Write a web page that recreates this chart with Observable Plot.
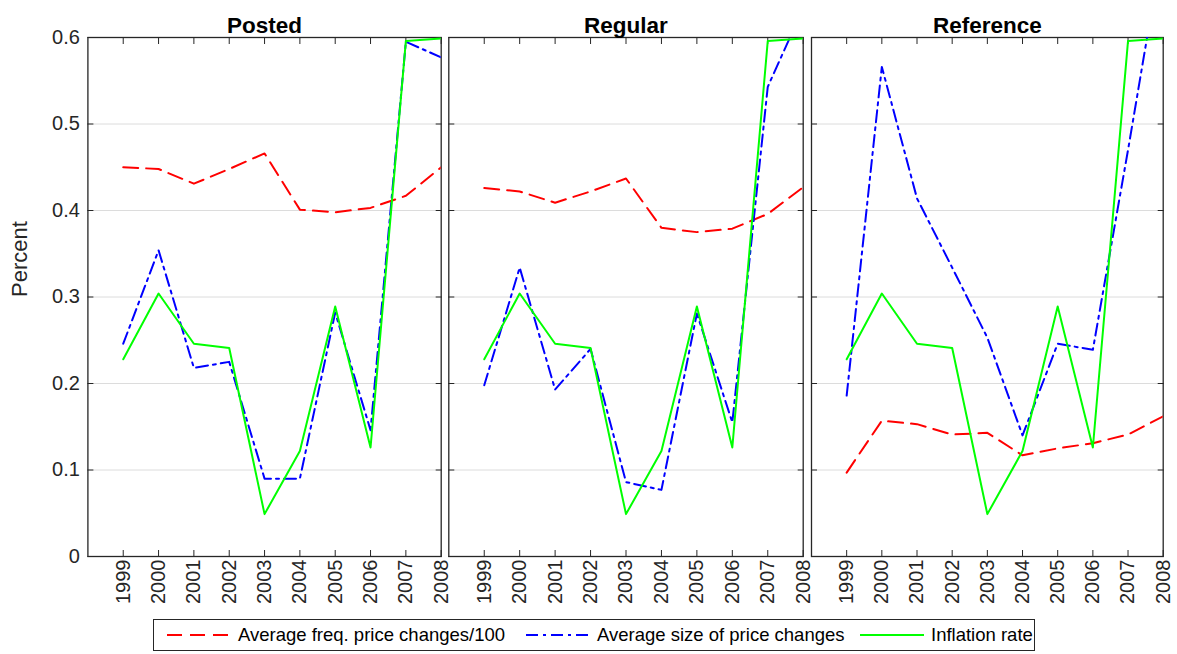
<!DOCTYPE html>
<html>
<head>
<meta charset="utf-8">
<script src="https://cdn.jsdelivr.net/npm/d3@7"></script>
<script src="https://cdn.jsdelivr.net/npm/@observablehq/plot@0.6"></script>
<style>
  body { margin: 0; background: #fff; font-family: "Liberation Sans", Arial, sans-serif; }
  #wrap { position: relative; width: 1177px; height: 654px; overflow: hidden; }
  .panel { position: absolute; top: 0; }
  #legend { position: absolute; left: 153px; top: 619px; width: 882px; height: 32px; border: 1px solid #262626; box-sizing: border-box; font-size: 18.5px; color: #000; }
  #legend .sw { position: absolute; top: 10px; }
  #legend .lt { position: absolute; top: 4px; line-height: 22px; white-space: nowrap; }
</style>
</head>
<body>
<div id="wrap"></div>
<script>
// ---- data ----
const years = [1999, 2000, 2001, 2002, 2003, 2004, 2005, 2006, 2007, 2008];
const yTicks = [0, 0.1, 0.2, 0.3, 0.4, 0.5, 0.6];
const gridTicks = [0.1, 0.2, 0.3, 0.4, 0.5];
const panelTitles = ["Posted", "Regular", "Reference"];
const seriesNames = ["Average freq. price changes/100", "Average size of price changes", "Inflation rate"];

const inflation     = [0.228, 0.304, 0.246, 0.241, 0.049, 0.122, 0.289, 0.126, 0.596, 0.599];
const postedFreq    = [0.450, 0.448, 0.431, 0.448, 0.466, 0.401, 0.398, 0.403, 0.417, 0.450];
const postedSize    = [0.246, 0.354, 0.218, 0.225, 0.090, 0.090, 0.282, 0.146, 0.595, 0.577];
const regularFreq   = [0.426, 0.422, 0.409, 0.422, 0.437, 0.380, 0.375, 0.379, 0.396, 0.427];
const regularSize   = [0.198, 0.334, 0.193, 0.240, 0.086, 0.077, 0.281, 0.155, 0.543, 0.634];
const referenceFreq = [0.097, 0.157, 0.153, 0.141, 0.143, 0.117, 0.125, 0.131, 0.141, 0.162];
const referenceSize = [0.186, 0.566, 0.414, 0.334, 0.253, 0.140, 0.246, 0.239, 0.470, 0.710];

// ---- styling ----
const RED = "#ff0000", BLUE = "#0000ff", GREEN = "#00ff00", AX = "#262626";
const DASH = "15,8", DASHDOT = "12,5,3,5";
const fmtY = d => String(+d.toFixed(1));

const panels = [
  {title: panelTitles[0], freq: postedFreq, size: postedSize, left: 0, width: 444, ml: 87.4, mr: 3.3, first: true},
  {title: panelTitles[1], freq: regularFreq, size: regularSize, left: 444, width: 362, ml: 4.3, mr: 3.3, first: false},
  {title: panelTitles[2], freq: referenceFreq, size: referenceSize, left: 806, width: 371, ml: 5.0, mr: 14.3, first: false}
];

const wrap = document.getElementById("wrap");
const toRows = arr => years.map((yr, i) => ({year: yr, v: arr[i]}));

for (const p of panels) {
  const marks = [
    Plot.gridY(gridTicks, {stroke: "#dcdcdc", strokeOpacity: 1, strokeWidth: 1}),
    Plot.frame({stroke: AX, strokeWidth: 1.3}),
    Plot.axisX({anchor: "bottom", ticks: years, tickSize: -6, tickFormat: () => "", label: null, stroke: AX}),
    Plot.axisX({anchor: "top", ticks: years, tickSize: -6, tickFormat: () => "", label: null, stroke: AX}),
    Plot.axisY({anchor: "left", ticks: yTicks, tickSize: -6, tickFormat: () => "", label: null, stroke: AX}),
    Plot.axisY({anchor: "right", ticks: yTicks, tickSize: -6, tickFormat: () => "", label: null, stroke: AX}),
    Plot.axisX({anchor: "bottom", ticks: years, tickSize: 0, tickPadding: 3, tickRotate: -90, tickFormat: "d", label: null, fontSize: 20, fill: AX}),
    Plot.lineY(toRows(p.freq), {x: "year", y: "v", stroke: RED, strokeWidth: 2, strokeDasharray: DASH, clip: true}),
    Plot.lineY(toRows(p.size), {x: "year", y: "v", stroke: BLUE, strokeWidth: 2, strokeDasharray: DASHDOT, clip: true}),
    Plot.lineY(toRows(inflation), {x: "year", y: "v", stroke: GREEN, strokeWidth: 2, clip: true}),
    Plot.text([p.title], {frameAnchor: "top", dy: -20, fontSize: 22.5, fontWeight: "bold", fill: "#000"})
  ];
  if (p.first) {
    marks.push(Plot.axisY({anchor: "left", ticks: yTicks, tickSize: 0, tickPadding: 8, tickFormat: fmtY, label: null, fontSize: 20, fill: AX}));
    marks.push(Plot.text(["Percent"], {frameAnchor: "left", dx: -68, rotate: -90, fontSize: 22, fill: AX}));
  }
  const chart = Plot.plot({
    width: p.width,
    height: 615,
    marginLeft: p.ml,
    marginRight: p.mr,
    marginTop: 37,
    marginBottom: 59,
    x: {domain: [1998, 2008], label: null},
    y: {domain: [0, 0.6], label: null},
    style: {fontFamily: "Liberation Sans, Arial, sans-serif", fontSize: "20px", overflow: "visible", background: "transparent"},
    marks
  });
  const div = document.createElement("div");
  div.className = "panel";
  div.style.left = p.left + "px";
  div.style.width = p.width + "px";
  div.appendChild(chart);
  wrap.appendChild(div);
}

// ---- legend ----
const legend = document.createElement("div");
legend.id = "legend";
wrap.appendChild(legend);
const items = [
  {name: seriesNames[0], color: RED, dash: DASH, sw: 13, tx: 84},
  {name: seriesNames[1], color: BLUE, dash: DASHDOT, sw: 372, tx: 443},
  {name: seriesNames[2], color: GREEN, dash: null, sw: 706, tx: 777}
];
for (const it of items) {
  const sw = document.createElementNS("http://www.w3.org/2000/svg", "svg");
  sw.setAttribute("class", "sw");
  sw.setAttribute("width", 64);
  sw.setAttribute("height", 10);
  sw.style.left = it.sw + "px";
  const ln = document.createElementNS("http://www.w3.org/2000/svg", "line");
  ln.setAttribute("x1", 0); ln.setAttribute("x2", 64);
  ln.setAttribute("y1", 5); ln.setAttribute("y2", 5);
  ln.setAttribute("stroke", it.color);
  ln.setAttribute("stroke-width", 2);
  if (it.dash) ln.setAttribute("stroke-dasharray", it.dash);
  sw.appendChild(ln);
  legend.appendChild(sw);
  const t = document.createElement("div");
  t.className = "lt";
  t.style.left = it.tx + "px";
  t.textContent = it.name;
  legend.appendChild(t);
}
</script>
</body>
</html>
